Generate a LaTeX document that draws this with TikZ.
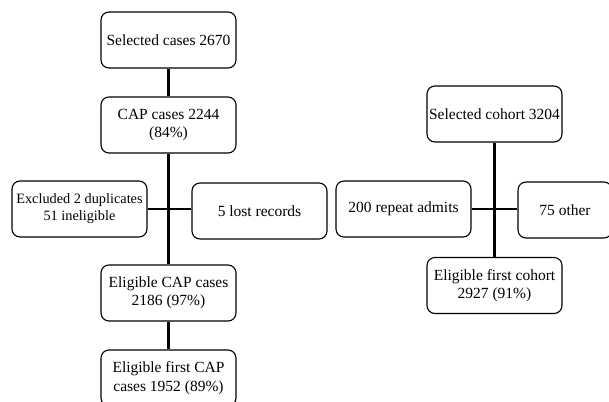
\documentclass[tikz,border=0pt]{standalone}
\usepackage{fontspec}
\setmainfont{Liberation Serif}
\usetikzlibrary{positioning}
\tikzset{
	flow chart/.style={
		x=1pt,y=-1pt,
		font=\fontsize{15.5}{18.5}\selectfont,
		flow line/.style={line width=2.6pt}
	},
	flow box/.style={
		rectangle,
		rounded corners=8pt,
		draw,
		line width=1.1pt,
		align=center,
		inner sep=0pt,
		minimum width=135pt,
		minimum height=56pt
	},
	narrow box/.style={
		flow box,
		minimum width=94pt
	}
}
\begin{document}
\begin{tikzpicture}[flow chart]
	\useasboundingbox (0,0) rectangle (609,401);
	% left flow
	\node[flow box] (sel) at (168.5,40) {Selected cases 2670};
	\node[flow box] (cap) at (168.5,125) {CAP cases 2244\\(84\%)};
	\node[flow box,font=\fontsize{14.3}{17}\selectfont] (excl) at (79.5,209) {Excluded 2 duplicates\\51 ineligible};
	\node[flow box] (lost) at (259.5,211) {5 lost records};
	\node[flow box] (elig) at (168.5,293) {Eligible CAP cases\\2186 (97\%)};
	\node[flow box] (first) at (168.5,378) {Eligible first CAP\\cases 1952 (89\%)};
	% right flow
	\node[flow box] (coh) at (494.5,114) {Selected cohort 3204};
	\node[flow box] (rep) at (403.5,209) {200 repeat admits};
	\node[narrow box] (oth) at (565,210) {75 other};
	\node[flow box] (ecoh) at (494.5,285.5) {Eligible first cohort\\2927 (91\%)};
	% connectors
	\draw[flow line] (sel) -- (cap);
	\draw[flow line] (cap) -- (elig);
	\draw[flow line] (excl.east) -- (lost.west |- excl.east);
	\draw[flow line] (elig) -- (first);
	\draw[flow line] (coh) -- (ecoh);
	\draw[flow line] (rep.east) -- (oth.west |- rep.east);
\end{tikzpicture}
\end{document}
